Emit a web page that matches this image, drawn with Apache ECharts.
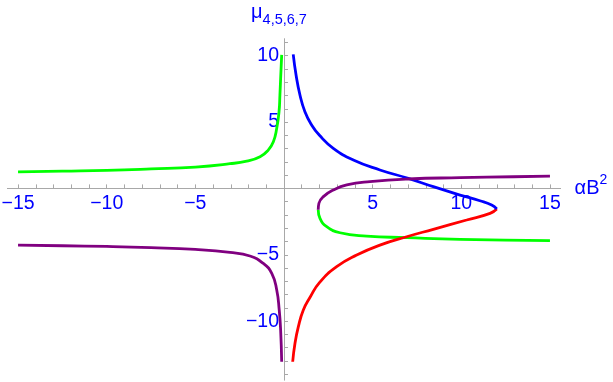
<!DOCTYPE html>
<html>
<head>
<meta charset="utf-8">
<script src="https://cdn.jsdelivr.net/npm/echarts@6/dist/echarts.min.js"></script>
<style>
  html, body { margin: 0; padding: 0; background: #fff; }
  #chart { width: 613px; height: 382px; }
</style>
</head>
<body>
<div id="chart"></div>
<script>
// curves, [alphaB^2, mu]
var greenLeft = [[-15, 1.24], [-12.5, 1.3], [-10, 1.36], [-7.5, 1.47], [-5, 1.61], [-3.05, 1.86], [-2.1, 2.06], [-1.35, 2.39], [-0.89, 2.89], [-0.6, 3.52], [-0.41, 4.53], [-0.28, 5.78], [-0.23, 7.04], [-0.19, 8.3], [-0.13, 10.06]];
var purpleLeft = [[-15, -4.27], [-12.5, -4.32], [-10, -4.37], [-7.5, -4.46], [-5, -4.6], [-3.05, -4.82], [-1.92, -5.09], [-1.17, -5.65], [-0.69, -6.4], [-0.41, -7.66], [-0.27, -9.16], [-0.19, -10.67], [-0.13, -13.06]];
var blueRight = [[0.52, 10.1], [0.68, 8.55], [0.9, 7.04], [1.18, 5.78], [1.56, 4.78], [2.0, 4.0], [2.78, 3.02], [3.91, 2.14], [5.41, 1.39], [7.01, 0.76], [8.42, 0.13], [9.93, -0.5], [11.05, -0.93], [11.71, -1.25], [12.0, -1.55]];
var redRight = [[12.0, -1.55], [11.62, -1.88], [10.3, -2.38], [8.42, -3.08], [6.92, -3.64], [5.41, -4.27], [4.1, -5.02], [2.97, -5.9], [2.0, -7.1], [1.47, -8.2], [1.09, -9.16], [0.81, -10.42], [0.62, -11.67], [0.49, -13.06]];
var purpleRight = [[15, 0.93], [12.93, 0.88], [9.93, 0.81], [7.01, 0.71], [4.85, 0.51], [3.54, 0.26], [2.78, -0.12], [2.22, -0.62], [1.97, -1.12], [1.93, -1.6]];
var greenRight = [[1.93, -1.6], [2.03, -2.26], [2.41, -2.88], [3.16, -3.34], [4.66, -3.59], [6.92, -3.71], [9.93, -3.84], [15, -3.94]];

var xTicks = [-15, -14, -13, -12, -11, -10, -9, -8, -7, -6, -5, -4, -3, -2, -1, 0, 1, 2, 3, 4, 5, 6, 7, 8, 9, 10, 11, 12, 13, 14, 15];
var xLabels = [-15, -10, -5, 5, 10, 15];
var yTicks = [-14, -13, -12, -11, -10, -9, -8, -7, -6, -5, -4, -3, -2, -1, 0, 1, 2, 3, 4, 5, 6, 7, 8, 9, 10, 11];
var yLabels = [-10, -5, 5, 10];

var font = "'Liberation Sans', Arial, sans-serif";
var axisGray = '#a8a8a8';
var blueText = '#0000ff';

function minusFmt (v) {
	return v < 0 ? '\u2212' + Math.abs(v) : String(v);
}

function curve (data, color) {
	return {
		type: 'line',
		data: data,
		smooth: 0.5,
		showSymbol: false,
		clip: true,
		lineStyle: { color: color, width: 2.8 }
	};
}

var myChart = echarts.init(document.getElementById('chart'));
var option = {
	animation: false,
	backgroundColor: '#ffffff',
	textStyle: { fontFamily: font },
	grid: { left: 7.4, right: 52.4, top: 38.7, bottom: 1.8, containLabel: false, outerBoundsMode: 'none' },
	xAxis: {
		type: 'value',
		min: -15.6,
		max: 15.6,
		position: 'bottom',
		offset: -191.8, // brings the axis up to mu = 0
		name: '{b|αB}{s|2}',
		nameLocation: 'end',
		nameGap: 14,
		nameTextStyle: {
			rich: {
				b: { fontSize: 20, color: blueText, fontFamily: font, lineHeight: 30 },
				s: { fontSize: 14, color: blueText, fontFamily: font, lineHeight: 14, verticalAlign: 'top' }
			}
		},
		axisLine: { show: true, onZero: false, lineStyle: { color: axisGray, width: 1 } },
		axisTick: { show: true, inside: true, length: 4, customValues: xTicks, lineStyle: { color: axisGray } },
		axisLabel: { show: true, customValues: xLabels, margin: 5, fontSize: 19.5, color: blueText, fontFamily: font, formatter: minusFmt },
		splitLine: { show: false }
	},
	yAxis: {
		type: 'value',
		min: -14.45,
		max: 11.28,
		position: 'left',
		offset: -276.6, // brings the axis across to alphaB^2 = 0
		name: '{m|μ}{s|4,5,6,7}',
		nameLocation: 'end',
		nameGap: 11,
		nameTextStyle: {
			padding: [0, 10, 0, 0],
			rich: {
				m: { fontSize: 20, color: blueText, fontFamily: font, lineHeight: 30 },
				s: { fontSize: 14.5, color: blueText, fontFamily: font, lineHeight: 14, verticalAlign: 'bottom' }
			}
		},
		axisLine: { show: true, onZero: false, lineStyle: { color: axisGray, width: 1 } },
		axisTick: { show: true, inside: true, length: 4, customValues: yTicks, lineStyle: { color: axisGray } },
		axisLabel: { show: true, customValues: yLabels, margin: 5, fontSize: 19.5, color: blueText, fontFamily: font, formatter: minusFmt },
		splitLine: { show: false }
	},
	series: [
		curve(greenLeft, '#00ff00'),
		curve(greenRight, '#00ff00'),
		curve(redRight, '#ff0000'),
		curve(blueRight, '#0000ff'),
		curve(purpleLeft, '#800080'),
		curve(purpleRight, '#800080')
	]
};
myChart.setOption(option);
</script>
</body>
</html>
